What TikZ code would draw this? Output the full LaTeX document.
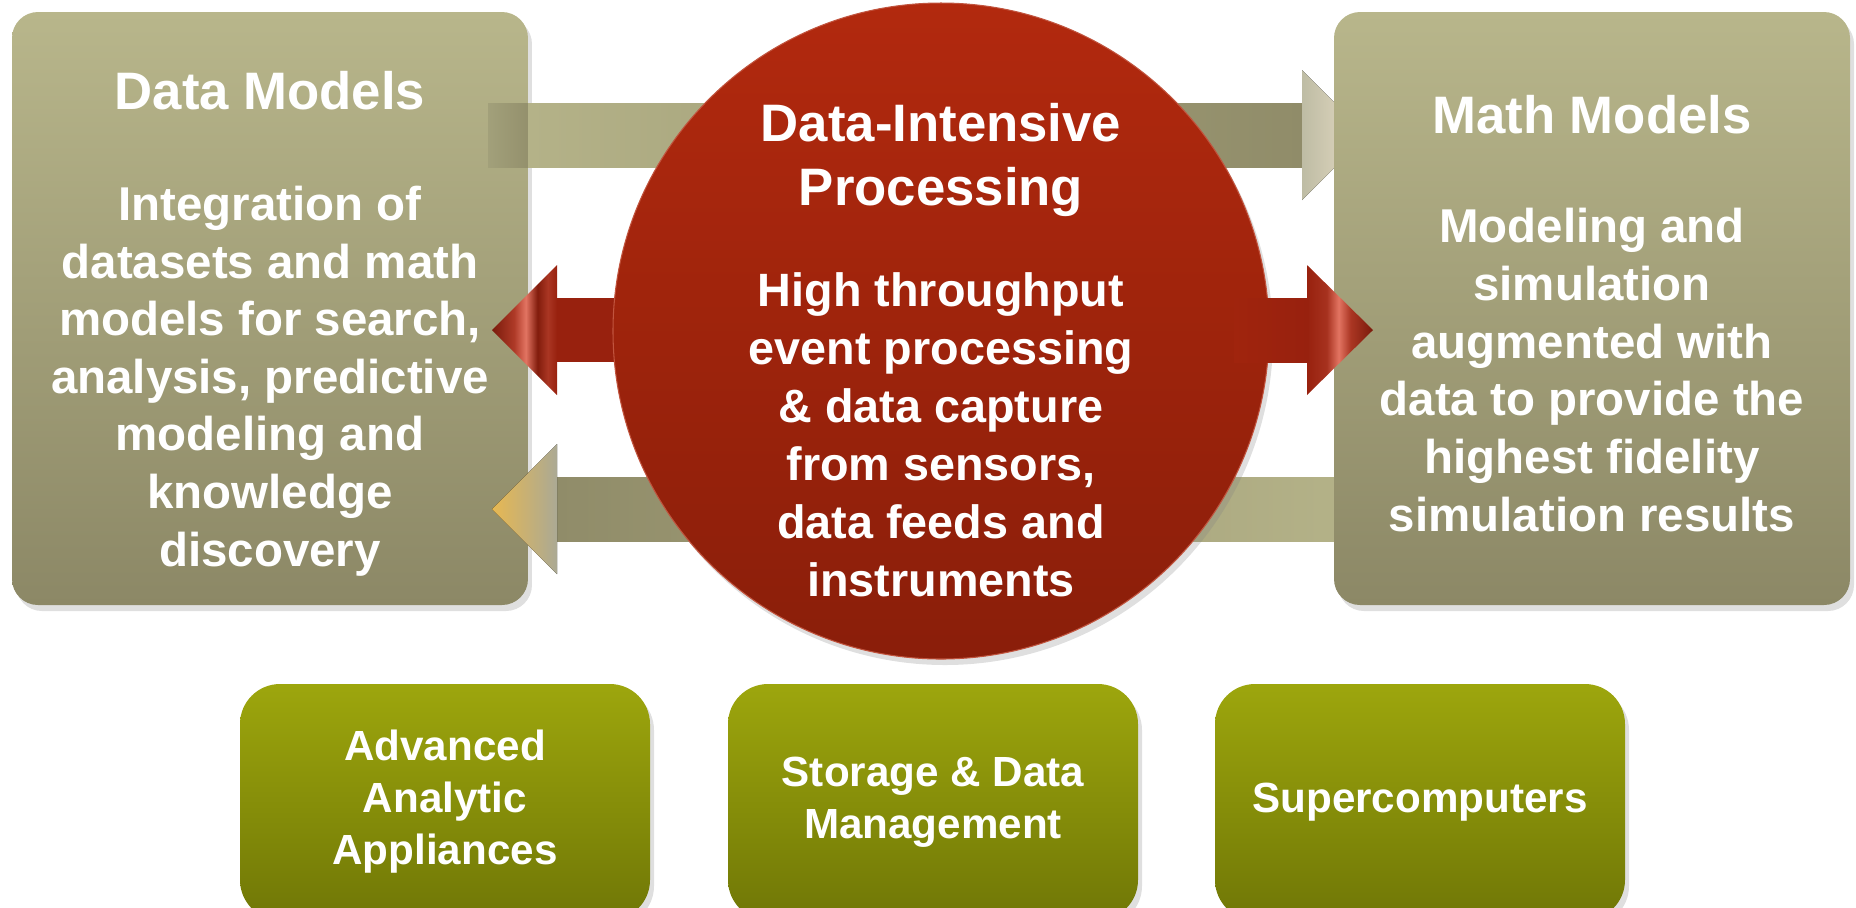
\documentclass[tikz,border=0pt]{standalone}
\usepackage{fontspec}
\setmainfont{Liberation Sans}
\usetikzlibrary{shadows}

\definecolor{khakitop}{RGB}{184,182,139}
\definecolor{khakibot}{RGB}{140,136,102}
\definecolor{olivetop}{RGB}{157,166,13}
\definecolor{olivebot}{RGB}{112,119,6}
\definecolor{hubtop}{RGB}{178,41,14}
\definecolor{hubmid}{RGB}{160,36,13}
\definecolor{hubbot}{RGB}{138,30,10}
\definecolor{flowred}{RGB}{152,33,14}
\definecolor{flowsalmon}{RGB}{226,116,98}
\definecolor{shaftlight}{RGB}{180,178,136}
\definecolor{shaftdark}{RGB}{144,140,105}
\definecolor{headgrey}{RGB}{190,188,164}
\definecolor{headcream}{RGB}{233,222,199}
\definecolor{headgold}{RGB}{231,184,82}

% heads of the red arrow: the box runs from 25bp to 75bp
\pgfdeclarehorizontalshading{redheadleft}{100bp}{color(0bp)=(flowred!80!black);
  color(25bp)=(flowred!80!black); color(42bp)=(flowred!70!flowsalmon);
  color(51bp)=(flowsalmon); color(60bp)=(flowred!85!black);
  color(68bp)=(flowred!75!flowsalmon); color(75bp)=(flowred); color(100bp)=(flowred)}
\pgfdeclarehorizontalshading{redheadright}{100bp}{color(0bp)=(flowred);
  color(25bp)=(flowred); color(40bp)=(flowred!80!flowsalmon);
  color(49bp)=(flowsalmon); color(58bp)=(flowred!75!flowsalmon);
  color(75bp)=(flowred!80!black); color(100bp)=(flowred!80!black)}

\tikzset{
  softshadow/.style={drop shadow={opacity=.25,shadow xshift=.4mm,shadow yshift=-.6mm}},
  modelbox/.style={rounded corners=2.6mm,top color=khakitop,bottom color=khakibot,
    minimum width=51.6mm,minimum height=59.3mm,inner sep=0pt,softshadow},
  toolbox/.style={rounded corners=4mm,top color=olivetop,bottom color=olivebot,
    minimum width=41mm,minimum height=23.6mm,inner sep=0pt,softshadow,
    text=white,align=center,font=\fontsize{12}{14.8}\selectfont\bfseries},
  hubdisc/.style={circle,top color=hubtop,bottom color=hubbot,draw=hubtop!80!white,
    line width=.3pt,minimum size=65.6mm,inner sep=0pt,softshadow},
  boxtitle/.style={text=white,align=center,font=\fontsize{15}{18.2}\selectfont\bfseries},
  boxtext/.style={text=white,align=center,font=\fontsize{13.5}{16.4}\selectfont\bfseries},
}

\begin{document}
\begin{tikzpicture}[x=0.1mm,y=-0.1mm]
\useasboundingbox (0,0) rectangle (1856,907);

% side panels
\node[modelbox] (datamodels) at (270,308.5) {};

% khaki arrow on top, to the right
\fill[left color=khakitop!88!black,middle color=shaftdark!92!black,right color=shaftdark!90!khakitop]
  (488,103) rectangle (528,167);
\fill[left color=shaftlight,right color=shaftdark] (528,103) rectangle (1302,167);
\fill[left color=headgrey,right color=headcream] (1302,70) -- (1367,135) -- (1302,200) -- cycle;

% khaki arrow below, to the left
\fill[left color=shaftdark,right color=shaftlight] (556,477) rectangle (1345,541);
\fill[left color=headgold,middle color=headcream,right color=headgrey!90!black]
  (492,509) -- (557,444) -- (557,574) -- cycle;

\node[modelbox] (mathmodels) at (1592,308.5) {};

% red double arrow through the hub
\fill[flowred] (556,298) rectangle (1308,362);
\shade[shading=redheadleft] (492,330) -- (557,265) -- (557,395) -- cycle;
\shade[shading=redheadright] (1307,265) -- (1373,330) -- (1307,395) -- cycle;

\node[hubdisc] (hub) at (941,331) {};
\fill[left color=hubmid,middle color=hubtop!92!white,right color=flowred]
  (1234,298) rectangle (1308,362);

\node[boxtitle] (dmtitle) at (270,91) {Data Models};
\node[boxtext] (dmtext) at (270,381) {Integration of\\datasets and math\\models for search,\\analysis, predictive\\modeling and\\knowledge\\discovery};

\node[boxtitle] (mmtitle) at (1592,115) {Math Models};
\node[boxtext] (mmtext) at (1592,370) {Modeling and\\simulation\\augmented with\\data to provide the\\highest fidelity\\simulation results};

\node[boxtitle] (hubtitle) at (941,160) {Data-Intensive\\Processing};
\node[boxtext,font=\fontsize{13.3}{16.5}\selectfont\bfseries] (hubtext) at (941,435)
  {High throughput\\event processing\\\& data capture\\from sensors,\\data feeds and\\instruments};

% platforms along the bottom
\foreach \x/\name/\label in {445/appliances/{Advanced\\Analytic\\Appliances},
    933/storage/{Storage \& Data\\Management},1420/supercomputers/{Supercomputers}}
  \node[toolbox] (\name) at (\x,802) {\label};
\end{tikzpicture}
\end{document}
